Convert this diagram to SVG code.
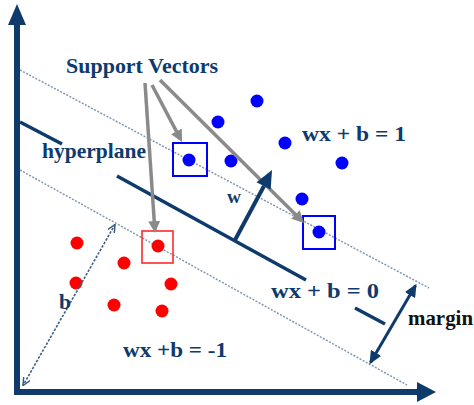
<svg xmlns="http://www.w3.org/2000/svg" width="474" height="405" viewBox="0 0 474 405">
<style>
.nav{stroke:#0e3b6c;fill:none}
.ax{stroke:#0e3b6c;stroke-width:6;fill:none}
.hp{stroke:#0e3b6c;stroke-width:3.5;fill:none}
.mg{stroke:#8397b1;stroke-width:1.5;stroke-dasharray:2 1.5;fill:none}
.gr{stroke:#8a8a8a;stroke-width:3.5;fill:none}
.bd{stroke:#3c5d85;stroke-width:1.6;stroke-dasharray:2.5 1.5;fill:none}
.lbl{font-family:"Liberation Serif","Times New Roman",serif;font-weight:bold;fill:#0e3b6c}
.blk{font-family:"Liberation Serif","Times New Roman",serif;font-weight:bold;fill:#111}
.bdot{fill:#0000ff}
.rdot{fill:#ff0000}
</style>
<defs>
<marker id="gh" viewBox="0 0 12 12" refX="8.5" refY="6" markerWidth="12" markerHeight="12" markerUnits="userSpaceOnUse" orient="auto">
<path d="M0,0 L12,6 L0,12 z" fill="#8a8a8a"/>
</marker>
<marker id="nh" viewBox="0 0 13 12" refX="11" refY="6" markerWidth="13" markerHeight="12" markerUnits="userSpaceOnUse" orient="auto-start-reverse">
<path d="M0,0 L13,6 L0,12 z" fill="#0e3b6c"/>
</marker>
<marker id="vh" viewBox="0 0 9 8" refX="8.5" refY="4" markerWidth="9" markerHeight="8" markerUnits="userSpaceOnUse" orient="auto-start-reverse">
<path d="M0,0 L8.5,4 L0,8" fill="none" stroke="#3c5d85" stroke-width="1.5"/>
</marker>
</defs>
<rect width="474" height="405" fill="#ffffff"/>

<g id="axes">
<line class="ax" x1="17" y1="24" x2="17" y2="395"/>
<polygon points="17,4 8,25 26,25" fill="#0e3b6c"/>
<line class="ax" x1="14" y1="392" x2="420" y2="392"/>
<polygon points="436,392 417,382 417,402" fill="#0e3b6c"/>
</g>

<g id="margin-lines">
<line class="mg" x1="20" y1="70" x2="429" y2="288"/>
<line class="mg" x1="20" y1="170" x2="407" y2="385"/>
</g>

<g id="hyperplane-line">
<line class="hp" x1="20" y1="122" x2="62" y2="144"/>
<line class="hp" x1="117" y1="176" x2="306" y2="280"/>
<line class="hp" x1="355" y1="308" x2="385" y2="324"/>
</g>

<g id="blue-points">
<circle class="bdot" cx="257" cy="101" r="6.5"/>
<circle class="bdot" cx="218" cy="122" r="6.5"/>
<circle class="bdot" cx="285" cy="143" r="6.5"/>
<circle class="bdot" cx="231" cy="161" r="6.5"/>
<circle class="bdot" cx="342" cy="163" r="6.5"/>
<circle class="bdot" cx="302" cy="199" r="6.5"/>
</g>
<g id="sv-blue-1">
<rect x="173" y="143" width="34" height="33" fill="none" stroke="#0000ff" stroke-width="2"/>
<circle class="bdot" cx="189" cy="160" r="6.5"/>
</g>
<g id="sv-blue-2">
<rect x="303" y="216" width="32" height="33" fill="none" stroke="#0000ff" stroke-width="2"/>
<circle class="bdot" cx="319" cy="232" r="6.5"/>
</g>

<g id="red-points">
<circle class="rdot" cx="77" cy="243" r="6.5"/>
<circle class="rdot" cx="124" cy="263" r="6.5"/>
<circle class="rdot" cx="76" cy="283" r="6.5"/>
<circle class="rdot" cx="171" cy="284" r="6.5"/>
<circle class="rdot" cx="114" cy="305" r="6.5"/>
<circle class="rdot" cx="162" cy="311" r="6.5"/>
</g>
<g id="sv-red">
<rect x="142" y="231" width="31" height="32" fill="none" stroke="#ff2a2a" stroke-width="1.6"/>
<circle class="rdot" cx="158" cy="246" r="6.5"/>
</g>

<g id="connectors">
<line class="gr" x1="145" y1="83" x2="154.8" y2="229.5" marker-end="url(#gh)"/>
<line class="gr" x1="152" y1="85" x2="180.4" y2="138.9" marker-end="url(#gh)"/>
<line class="gr" x1="160" y1="80" x2="301.5" y2="220.5" marker-end="url(#gh)"/>
<line class="nav" stroke-width="4" x1="235" y1="240" x2="264" y2="186"/>
<polygon points="272,170 270.7,189.6 256.5,182.2" fill="#0e3b6c"/>
<line class="nav" stroke-width="3" x1="415.5" y1="285.6" x2="370.5" y2="362.4" marker-start="url(#nh)" marker-end="url(#nh)"/>
<line class="bd" x1="115" y1="224.5" x2="23" y2="385.5" marker-start="url(#vh)" marker-end="url(#vh)"/>
</g>

<g id="labels">
<text class="lbl" x="66" y="73" font-size="22" textLength="152" lengthAdjust="spacingAndGlyphs">Support Vectors</text>
<text class="lbl" x="42" y="158" font-size="21" textLength="104" lengthAdjust="spacingAndGlyphs">hyperplane</text>
<text class="lbl" x="302" y="141" font-size="22" textLength="104" lengthAdjust="spacingAndGlyphs">wx + b = 1</text>
<text class="lbl" x="227" y="203" font-size="19" textLength="14" lengthAdjust="spacingAndGlyphs">w</text>
<text class="lbl" x="271" y="298" font-size="21" textLength="108" lengthAdjust="spacingAndGlyphs">wx + b = 0</text>
<text class="lbl" x="123" y="357" font-size="20" textLength="104" lengthAdjust="spacingAndGlyphs">wx +b = -1</text>
<text class="lbl" x="59" y="309" font-size="21" textLength="12" lengthAdjust="spacingAndGlyphs">b</text>
<text class="blk" x="408" y="325" font-size="21" textLength="65" lengthAdjust="spacingAndGlyphs">margin</text>
</g>
</svg>
